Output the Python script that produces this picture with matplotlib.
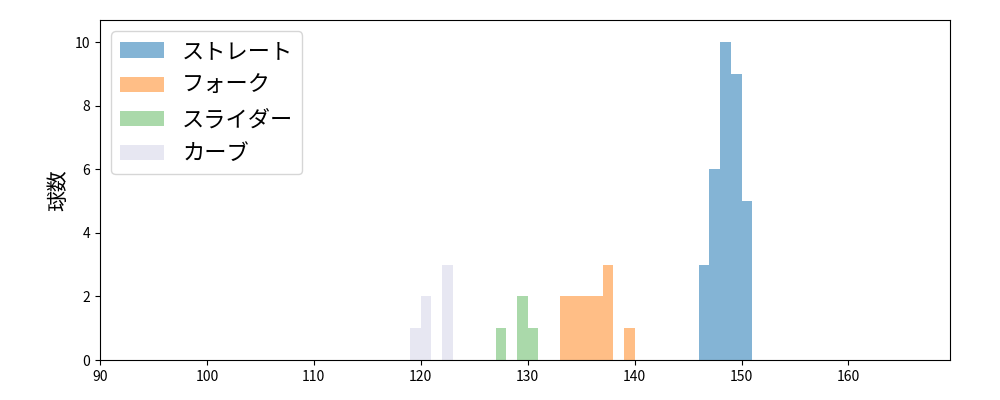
import numpy as np
import matplotlib
matplotlib.use("Agg")
import matplotlib.pyplot as plt

plt.rcParams['font.family'] = ['Noto Sans CJK JP', 'DejaVu Sans']

labels = ["ストレート", "フォーク", "スライダー", "カーブ"]
colors = ["#1f77b4", "#ff7f0e", "#2ca02c", "#d0d0e6"]
alphas = [0.55, 0.5, 0.4, 0.5]
speeds = [
    [146, 147, 148, 149, 150],
    [133, 134, 135, 136, 137, 139],
    [127, 129, 130],
    [119, 120, 122],
]
counts = [
    [3, 6, 10, 9, 5],
    [2, 2, 2, 2, 3, 1],
    [1, 2, 1],
    [1, 2, 3],
]

bins = np.arange(119.0, 153.0, 1)

fig, ax = plt.subplots(figsize=(10, 4), dpi=100)
for lab, c, a, s, n in zip(labels, colors, alphas, speeds, counts):
    ax.hist(s, bins=bins, weights=n, color=c, alpha=a, label=lab)

ax.set_xlim(90, 169.5)
ax.set_ylim(0, 10.7)
ax.set_ylabel("球数", fontsize=15)
ax.legend(loc="upper left", fontsize=16)
fig.subplots_adjust(left=0.1, right=0.95, top=0.95, bottom=0.1)
fig.savefig("out.png")
